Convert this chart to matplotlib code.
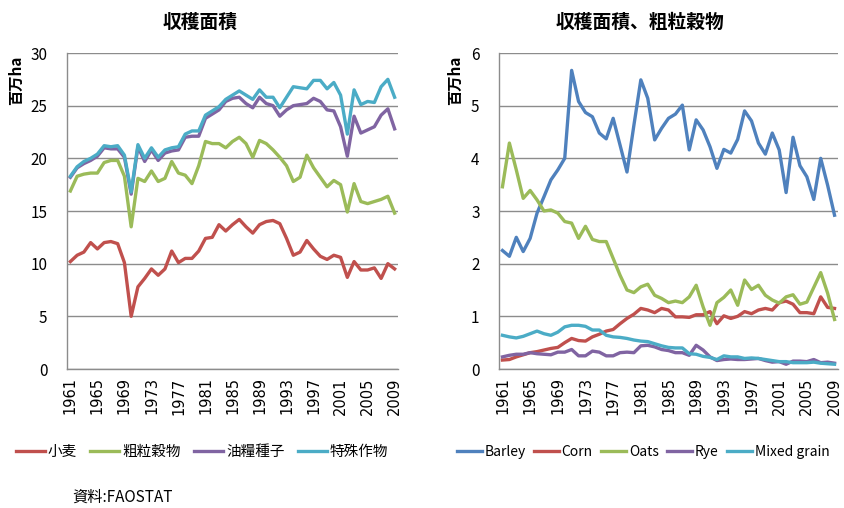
import matplotlib.pyplot as plt
import numpy as np

plt.rcParams['font.family'] = ['Noto Sans CJK JP', 'DejaVu Sans']

years = list(range(1961, 2010))

# left panel: harvested area, million ha
wheat = [10.2, 10.8, 11.1, 12.0, 11.4, 12.0, 12.1, 11.9, 10.1, 5.0,
         7.8, 8.6, 9.5, 8.9, 9.5, 11.2, 10.1, 10.5, 10.5, 11.2,
         12.4, 12.5, 13.7, 13.1, 13.7, 14.2, 13.5, 12.9, 13.7, 14.0,
         14.1, 13.8, 12.4, 10.8, 11.1, 12.2, 11.4, 10.7, 10.4, 10.8,
         10.6, 8.7, 10.2, 9.4, 9.4, 9.6, 8.6, 10.0, 9.5]
coarse = [16.9, 18.3, 18.5, 18.6, 18.6, 19.6, 19.8, 19.8, 18.3, 13.5,
          18.1, 17.8, 18.8, 17.8, 18.1, 19.7, 18.6, 18.4, 17.6, 19.3,
          21.6, 21.4, 21.4, 21.0, 21.6, 22.0, 21.4, 20.1, 21.7, 21.4,
          20.8, 20.1, 19.3, 17.8, 18.2, 20.3, 19.1, 18.2, 17.3, 17.9,
          17.5, 14.9, 17.6, 15.9, 15.7, 15.9, 16.1, 16.4, 14.8]
oilseed = [18.2, 19.1, 19.5, 19.8, 20.2, 21.0, 20.9, 20.9, 20.1, 16.6,
           21.1, 19.7, 20.8, 19.8, 20.5, 20.7, 20.8, 22.0, 22.1, 22.1,
           23.8, 24.2, 24.6, 25.4, 25.7, 25.8, 25.2, 24.8, 25.8, 25.2,
           25.0, 24.0, 24.6, 25.0, 25.1, 25.2, 25.7, 25.4, 24.6, 24.5,
           23.0, 20.2, 24.0, 22.4, 22.7, 23.0, 24.1, 24.7, 22.8]
special = [18.3, 19.2, 19.7, 20.0, 20.4, 21.2, 21.1, 21.2, 20.3, 16.8,
           21.3, 20.0, 21.0, 20.1, 20.8, 21.0, 21.1, 22.3, 22.6, 22.6,
           24.1, 24.5, 24.9, 25.6, 26.0, 26.4, 26.0, 25.6, 26.5, 25.8,
           25.8, 24.8, 25.8, 26.8, 26.7, 26.6, 27.4, 27.4, 26.6, 27.2,
           26.0, 22.3, 26.5, 25.1, 25.4, 25.3, 26.8, 27.5, 25.8]

# right panel: coarse grains
barley = [2.25, 2.14, 2.50, 2.23, 2.48, 2.96, 3.27, 3.59, 3.78, 4.00,
          5.67, 5.08, 4.87, 4.79, 4.48, 4.37, 4.76, 4.25, 3.74, 4.63,
          5.49, 5.14, 4.35, 4.57, 4.76, 4.84, 5.01, 4.16, 4.73, 4.54,
          4.22, 3.81, 4.17, 4.10, 4.36, 4.90, 4.71, 4.29, 4.08, 4.48,
          4.16, 3.35, 4.40, 3.86, 3.65, 3.22, 4.00, 3.49, 2.92]
corn = [0.17, 0.18, 0.23, 0.27, 0.31, 0.33, 0.36, 0.39, 0.41, 0.50,
        0.58, 0.54, 0.53, 0.61, 0.66, 0.72, 0.75, 0.86, 0.96, 1.04,
        1.15, 1.12, 1.07, 1.15, 1.12, 0.99, 0.99, 0.98, 1.03, 1.03,
        1.09, 0.86, 1.01, 0.96, 1.00, 1.09, 1.05, 1.12, 1.15, 1.12,
        1.26, 1.29, 1.23, 1.07, 1.07, 1.05, 1.37, 1.17, 1.15]
oats = [3.46, 4.29, 3.78, 3.24, 3.39, 3.21, 3.00, 3.02, 2.96, 2.80,
        2.77, 2.48, 2.71, 2.46, 2.42, 2.42, 2.10, 1.78, 1.50, 1.45,
        1.56, 1.61, 1.40, 1.34, 1.26, 1.29, 1.26, 1.37, 1.59, 1.18,
        0.83, 1.26, 1.36, 1.50, 1.21, 1.69, 1.51, 1.59, 1.40, 1.31,
        1.25, 1.37, 1.41, 1.23, 1.27, 1.55, 1.83, 1.44, 0.94]
rye = [0.23, 0.26, 0.28, 0.28, 0.31, 0.29, 0.28, 0.27, 0.32, 0.32,
       0.37, 0.25, 0.25, 0.34, 0.32, 0.25, 0.25, 0.31, 0.32, 0.31,
       0.44, 0.45, 0.42, 0.37, 0.35, 0.31, 0.31, 0.26, 0.45, 0.36,
       0.23, 0.16, 0.18, 0.19, 0.18, 0.18, 0.19, 0.20, 0.16, 0.13,
       0.14, 0.09, 0.15, 0.15, 0.14, 0.18, 0.12, 0.13, 0.11]
mixed = [0.64, 0.61, 0.59, 0.62, 0.67, 0.72, 0.67, 0.64, 0.70, 0.80,
         0.83, 0.83, 0.81, 0.74, 0.74, 0.64, 0.61, 0.60, 0.58, 0.55,
         0.53, 0.52, 0.48, 0.44, 0.41, 0.40, 0.40, 0.29, 0.28, 0.24,
         0.22, 0.18, 0.25, 0.23, 0.23, 0.20, 0.21, 0.20, 0.18, 0.16,
         0.14, 0.14, 0.12, 0.12, 0.12, 0.13, 0.11, 0.10, 0.09]

left_names = ['小麦', '粗粒穀物', '油糧種子', '特殊作物']
right_names = ['Barley', 'Corn', 'Oats', 'Rye', 'Mixed grain']

blue = '#4F81BD'
red = '#C0504D'
green = '#9BBB59'
purple = '#8064A2'
cyan = '#4BACC6'
gridc = '#8c8c8c'

fig = plt.figure(figsize=(8.45, 5.08), dpi=100)
W, H = 845, 508
ax1 = fig.add_axes([67 / W, 1 - 369 / H, 331 / W, 316 / H])
ax2 = fig.add_axes([499 / W, 1 - 369 / H, 339 / W, 316 / H])

x = np.arange(len(years))


def style(ax, ymax, step):
    ax.set_xlim(-0.5, len(years) - 0.5)
    ax.set_ylim(0, ymax)
    ax.set_yticks(np.arange(0, ymax + step / 2, step))
    ax.set_xticks(x[::4])
    ax.set_xticklabels([str(y) for y in years[::4]], rotation=90, fontsize=10.5,
                       family='DejaVu Sans')
    for t in ax.get_yticklabels():
        t.set_fontsize(11)
    ax.tick_params(length=0, pad=6)
    ax.tick_params(axis='y', pad=14)
    ax.grid(axis='y', color=gridc, linewidth=1)
    ax.set_axisbelow(True)
    for s in ['top', 'right']:
        ax.spines[s].set_visible(False)
    for s in ['left', 'bottom']:
        ax.spines[s].set_color(gridc)
        ax.spines[s].set_linewidth(1)


lw = 2.4
for vals, c, n in zip([wheat, coarse, oilseed, special], [red, green, purple, cyan], left_names):
    ax1.plot(x, vals, color=c, lw=lw, label=n, solid_joinstyle='round')
style(ax1, 30, 5)

for vals, c, n in zip([barley, corn, oats, rye, mixed], [blue, red, green, purple, cyan], right_names):
    ax2.plot(x, vals, color=c, lw=lw, label=n, solid_joinstyle='round')
style(ax2, 6, 1)

fig.text(200 / W, 1 - 22 / H, '収穫面積', ha='center', va='center',
         fontsize=13.5, fontweight='bold')
fig.text(640 / W, 1 - 22 / H, '収穫面積、粗粒穀物', ha='center', va='center',
         fontsize=13.5, fontweight='bold')
fig.text(16 / W, 1 - 80 / H, '百万ha', rotation=90, ha='center', va='center',
         fontsize=11, fontweight='bold')
fig.text(455 / W, 1 - 80 / H, '百万ha', rotation=90, ha='center', va='center',
         fontsize=11, fontweight='bold')

ax1.legend(loc='center', bbox_to_anchor=(202 / W, 1 - 452 / H), bbox_transform=fig.transFigure,
           ncol=4, frameon=False, fontsize=10.5, handlelength=2.0, handletextpad=0.2,
           columnspacing=0.9)
ax2.legend(loc='center', bbox_to_anchor=(643 / W, 1 - 452 / H),
           bbox_transform=fig.transFigure, ncol=5, frameon=False, fontsize=10,
           handlelength=1.8, handletextpad=0.2, columnspacing=0.6)

fig.text(72 / W, 1 - 497 / H, '資料:FAOSTAT', ha='left', va='center', fontsize=11)

fig.savefig('out.png', dpi=100)
